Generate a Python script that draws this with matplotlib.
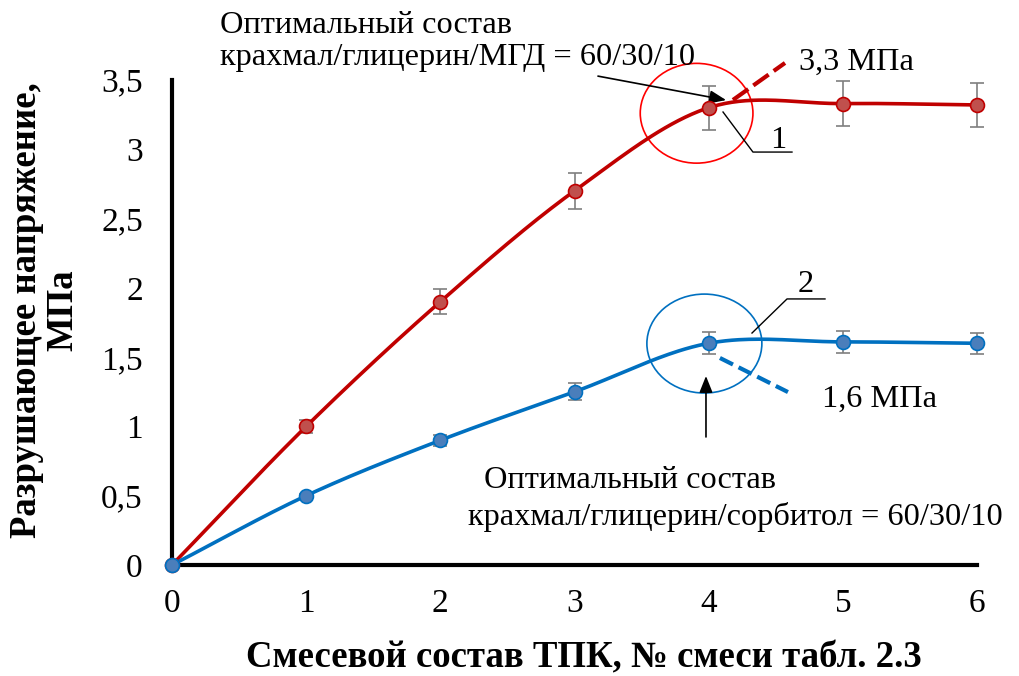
import numpy as np
import matplotlib.pyplot as plt
from matplotlib.patches import Ellipse

plt.rcParams['font.family'] = ['Liberation Serif', 'DejaVu Serif']

# mixture number (table 2.3) and breaking stress, MPa
mix = [0, 1, 2, 3, 4, 5, 6]
stress_mgd = [0, 1.0, 1.9, 2.7, 3.3, 3.33, 3.32]
err_mgd = [0, 0.05, 0.09, 0.13, 0.16, 0.16, 0.16]
stress_sorb = [0, 0.5, 0.9, 1.25, 1.6, 1.61, 1.6]
err_sorb = [0, 0.01, 0.04, 0.06, 0.08, 0.08, 0.075]


def smooth(x, y, n=40):
    # Catmull-Rom through the points, like the spreadsheet "smoothed line"
    x = np.asarray(x, float)
    y = np.asarray(y, float)
    m = np.zeros_like(y)
    m[1:-1] = (y[2:] - y[:-2]) / (x[2:] - x[:-2])
    m[0] = (y[1] - y[0]) / (x[1] - x[0])
    m[-1] = (y[-1] - y[-2]) / (x[-1] - x[-2])
    xs, ys = [], []
    for i in range(len(x) - 1):
        h = x[i + 1] - x[i]
        t = np.linspace(0, 1, n, endpoint=False)
        h00 = 2*t**3 - 3*t**2 + 1
        h10 = t**3 - 2*t**2 + t
        h01 = -2*t**3 + 3*t**2
        h11 = t**3 - t**2
        xs.append(x[i] + t*h)
        ys.append(h00*y[i] + h10*h*m[i] + h01*y[i+1] + h11*h*m[i+1])
    xs.append([x[-1]])
    ys.append([y[-1]])
    return np.concatenate(xs), np.concatenate(ys)


fig = plt.figure(figsize=(10.19, 6.76), dpi=100)
ax = fig.add_axes([172/1019, 1 - 565/676, (977-172)/1019, (565-80)/676])

red, red_fill = '#C00000', '#C0504D'
blue, blue_fill = '#0070C0', '#4A7EBB'

for y, e, c, fc in [(stress_mgd, err_mgd, red, red_fill),
                    (stress_sorb, err_sorb, blue, blue_fill)]:
    sx, sy = smooth(mix, y)
    ax.plot(sx, sy, color=c, lw=2.6, clip_on=False, zorder=3)
    ax.errorbar(mix, y, yerr=e, fmt='none', ecolor='#7F7F7F', elinewidth=1.2,
                capsize=5, capthick=1.2, clip_on=False, zorder=2)
    ax.plot(mix, y, 'o', ms=10, mfc=fc, mec=c, mew=1.2, clip_on=False, zorder=4)

ax.set_xlim(0, 6)
ax.set_ylim(0, 3.5)
ax.set_xticks(range(7))
ax.set_yticks([0, 0.5, 1, 1.5, 2, 2.5, 3, 3.5])
ax.set_yticklabels(['0', '0,5', '1', '1,5', '2', '2,5', '3', '3,5'])
ax.tick_params(length=0, labelsize=24)
ax.tick_params(axis='y', pad=21)
ax.tick_params(axis='x', pad=17)
for s in ['top', 'right']:
    ax.spines[s].set_visible(False)
for s in ['left', 'bottom']:
    ax.spines[s].set_linewidth(3)
    ax.spines[s].set_color('black')

fig.text(0.573, 0.012, 'Смесевой состав ТПК, № смеси табл. 2.3', ha='center',
         va='baseline', fontsize=26.5, fontweight='bold')
fig.text(0.044, 0.541, 'Разрушающее напряжение,\nМПа', ha='center', va='center',
         rotation=90, fontsize=26.5, fontweight='bold', multialignment='center',
         linespacing=1.05)

# optimum markers
ax.add_patch(Ellipse((3.91, 3.26), 0.84, 0.72, fill=False, ec='#FF0000', lw=1.2,
                     clip_on=False))
ax.add_patch(Ellipse((3.968, 1.598), 0.857, 0.714, fill=False, ec=blue, lw=1.2,
                     clip_on=False))

ax.plot([4.181, 4.569], [3.356, 3.623], color=red, lw=3, ls=(0, (4.5, 1.5)),
        clip_on=False)
ax.plot([4.084, 4.591], [1.494, 1.248], color=blue, lw=3, ls=(0, (3.5, 1.5)),
        clip_on=False)
ax.plot([4.107, 4.330, 4.621], [3.269, 2.980, 2.980], color='black', lw=1,
        clip_on=False)
ax.plot([4.323, 4.584, 4.867], [1.674, 1.920, 1.920], color='black', lw=1,
        clip_on=False)

arrow = dict(arrowstyle='-|>,head_length=1.0,head_width=0.4', color='black',
             lw=1.2, shrinkA=0, shrinkB=0)
ax.annotate('', xy=(4.130, 3.355), xytext=(3.175, 3.528), arrowprops=arrow,
            annotation_clip=False)
ax.annotate('', xy=(3.98, 1.364), xytext=(3.98, 0.924), arrowprops=arrow,
            annotation_clip=False)

fs = 23.3
ax.text(0.358, 3.84, 'Оптимальный состав', fontsize=fs, va='baseline')
ax.text(0.358, 3.608, 'крахмал/глицерин/МГД = 60/30/10', fontsize=fs,
        va='baseline')
ax.text(4.673, 3.572, '3,3 МПа', fontsize=fs, va='baseline')
ax.text(4.457, 3.009, '1', fontsize=fs, va='baseline')
ax.text(4.666, 1.970, '2', fontsize=fs, va='baseline')
ax.text(4.845, 1.140, '1,6 МПа', fontsize=fs, va='baseline')
ax.text(2.325, 0.556, 'Оптимальный состав', fontsize=fs, va='baseline')
ax.text(2.206, 0.289, 'крахмал/глицерин/сорбитол = 60/30/10', fontsize=fs,
        va='baseline')

fig.savefig('out.png', dpi=100)
